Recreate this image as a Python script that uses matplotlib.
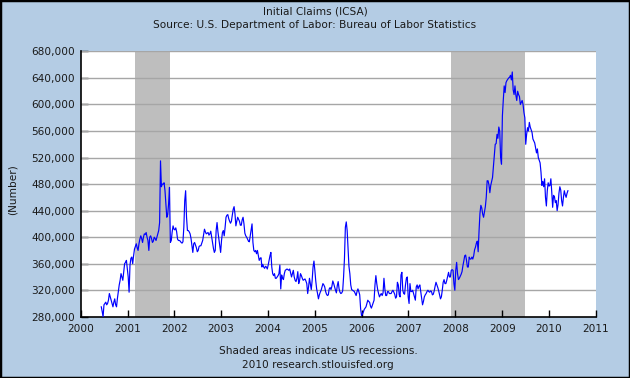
import matplotlib

matplotlib.use("Agg")
import matplotlib.pyplot as plt
import matplotlib.dates as mdates
import pandas as pd
from matplotlib.patches import Rectangle
from matplotlib.ticker import FuncFormatter

# weekly initial claims, thousands (week ending Saturday)
START = "2000-06-10"
claims_2000_04 = [
    295, 288, 280, 298, 300, 302, 298, 300, 305, 315,
    310, 305, 300, 295, 302, 307, 298, 295, 308, 318,
    328, 335, 345, 340, 335, 348, 360, 362, 365, 352,
    340, 317, 358, 368, 370, 360, 372, 382, 386, 390,
    384, 380, 390, 397, 402, 398, 392, 400, 405, 404,
    407, 400, 395, 380, 400, 402, 398, 392, 394, 400,
    398, 395, 400, 405, 410, 422, 515, 476, 480, 480,
    482, 470, 450, 430, 434, 450, 475, 392, 395, 408,
    417, 412, 411, 414, 408, 397, 395, 395, 394, 392,
    391, 393, 415, 455, 470, 430, 410, 410, 408, 405,
    398, 388, 377, 390, 392, 388, 384, 378, 380, 386,
    387, 387, 391, 395, 404, 412, 408, 405, 406, 407,
    403, 405, 409, 400, 391, 383, 377, 380, 410, 422,
    408, 398, 388, 377, 395, 407, 410, 402, 415, 430,
    433, 434, 428, 424, 421, 424, 433, 442, 446, 435,
    417, 424, 430, 427, 424, 418, 418, 426, 430, 420,
    406, 402, 400, 397, 394, 393, 402, 410, 420, 392,
    380, 378, 380, 375, 380, 372, 365, 368, 369, 355,
    359, 355, 353, 356, 355, 352, 358, 365, 372, 377,
    355, 345, 342, 345, 338, 338, 340, 342, 345, 358,
    322, 343, 338, 336, 345, 350, 351, 352, 351, 350,
]
claims_2004_08 = [
    352, 346, 340, 345, 350, 340, 335, 333, 338, 348,
    330, 335, 345, 342, 338, 335, 336, 337, 334, 330,
    315, 325, 338, 330, 321, 335, 355, 364, 350, 334,
    322, 315, 307, 313, 317, 320, 325, 330, 328, 325,
    318, 314, 312, 313, 322, 324, 321, 326, 334, 330,
    325, 320, 316, 327, 333, 322, 317, 315, 316, 319,
    340, 368, 415, 423, 410, 382, 356, 345, 328, 321,
    320, 319, 318, 315, 312, 318, 322, 318, 313, 292,
    282, 284, 287, 291, 293, 295, 300, 305, 303, 302,
    296, 293, 297, 301, 305, 328, 342, 330, 321, 315,
    310, 313, 315, 312, 316, 338, 322, 312, 312, 318,
    318, 315, 315, 315, 318, 320, 317, 314, 308, 310,
    332, 328, 313, 310, 343, 347, 320, 315, 314, 328,
    338, 340, 310, 300, 330, 318, 318, 320, 315, 310,
    305, 325, 328, 322, 326, 328, 318, 308, 298, 303,
    310, 313, 315, 318, 320, 318, 317, 319, 318, 313,
    314, 319, 326, 332, 328, 324, 319, 313, 307, 310,
    320, 332, 336, 330, 330, 335, 341, 347, 340, 340,
    350, 351, 350, 330, 320, 350, 362, 345, 336,
]
claims_2008_10 = [
    338, 341, 344, 348, 357, 364, 372, 373, 365, 355,
    355, 370, 367, 367, 370, 367, 372, 381, 385, 391,
    394, 378, 410, 436, 448, 444, 435, 430, 438, 446,
    460, 485, 485, 479, 467, 478, 484, 490, 507, 525,
    540, 541, 555, 549, 566, 560, 520, 510, 583, 607,
    628, 618, 633, 636, 638, 640, 641, 644, 637, 649,
    622, 615, 628, 614, 606, 620, 615, 612, 600, 603,
    606, 600, 588, 580, 540, 555, 565, 560, 573, 566,
    562, 558, 548, 545, 542, 534, 527, 533, 520, 516,
    512, 498, 478, 484, 476, 488, 460, 447, 470, 482,
    477, 478, 488, 468, 445, 463, 461, 452, 455, 440,
    449, 466, 476, 471, 455, 447, 460, 470, 464, 460,
    466, 470,
]
recessions = [("2001-03-01", "2001-11-30"), ("2007-12-01", "2009-06-30")]
years = list(range(2000, 2012))
y_ticks = list(range(280000, 680001, 40000))

BG = "#B4CCE4"
TXT = "#1a1a1a"
FS = 7.6

claims = pd.Series(
    [v * 1000 for v in claims_2000_04 + claims_2004_08 + claims_2008_10],
)
dates = pd.date_range(START, periods=len(claims), freq="W-SAT")

fig = plt.figure(figsize=(6.3, 3.78), dpi=100, facecolor=BG)
ax = fig.add_axes([0.128, 0.162, 0.8176, 0.702])

for a, b in recessions:
    ax.axvspan(pd.Timestamp(a), pd.Timestamp(b), color="#BEBEBE", lw=0, zorder=1)
for y in y_ticks[1:]:
    ax.axhline(y, color="#A6A6A6", lw=1, zorder=2)

ax.plot(dates, claims, color="#0000FF", lw=0.85, zorder=3)

ax.set_xlim(pd.Timestamp("2000-01-01"), pd.Timestamp("2011-01-01"))
ax.set_ylim(280000, 680000)
ax.set_xticks([pd.Timestamp(f"{y}-01-01") for y in years])
ax.xaxis.set_major_formatter(mdates.DateFormatter("%Y"))
ax.set_yticks(y_ticks)
ax.yaxis.set_major_formatter(FuncFormatter(lambda v, _: f"{int(v):,}"))
ax.tick_params(axis="x", direction="in", length=5, width=1, pad=5,
               labelsize=FS, colors="black", labelcolor=TXT)
ax.tick_params(axis="y", direction="in", length=5, width=1, pad=4,
               labelsize=FS, colors="black", labelcolor=TXT)
for side in ("top", "right"):
    ax.spines[side].set_visible(False)
for side in ("left", "bottom"):
    ax.spines[side].set_color("black")
    ax.spines[side].set_linewidth(1.2)

fig.text(0.5, 1 - 11.7 / 378, "Initial Claims (ICSA)", ha="center", va="center",
         fontsize=FS, color=TXT)
fig.text(0.5, 1 - 25.5 / 378, "Source: U.S. Department of Labor: Bureau of Labor Statistics",
         ha="center", va="center", fontsize=FS, color=TXT)
fig.text(13 / 630, 1 - 190 / 378, "(Number)", rotation=90, ha="center", va="center",
         fontsize=FS, color=TXT)
fig.text(318 / 630, 1 - 351.5 / 378, "Shaded areas indicate US recessions.",
         ha="center", va="center", fontsize=FS, color=TXT)
fig.text(318 / 630, 1 - 365 / 378, "2010 research.stlouisfed.org",
         ha="center", va="center", fontsize=FS, color=TXT)

fig.patches.append(Rectangle((0, 0), 1, 1, transform=fig.transFigure, fill=False,
                             edgecolor="black", lw=2.5))

fig.savefig("out.png", dpi=100, facecolor=BG)
